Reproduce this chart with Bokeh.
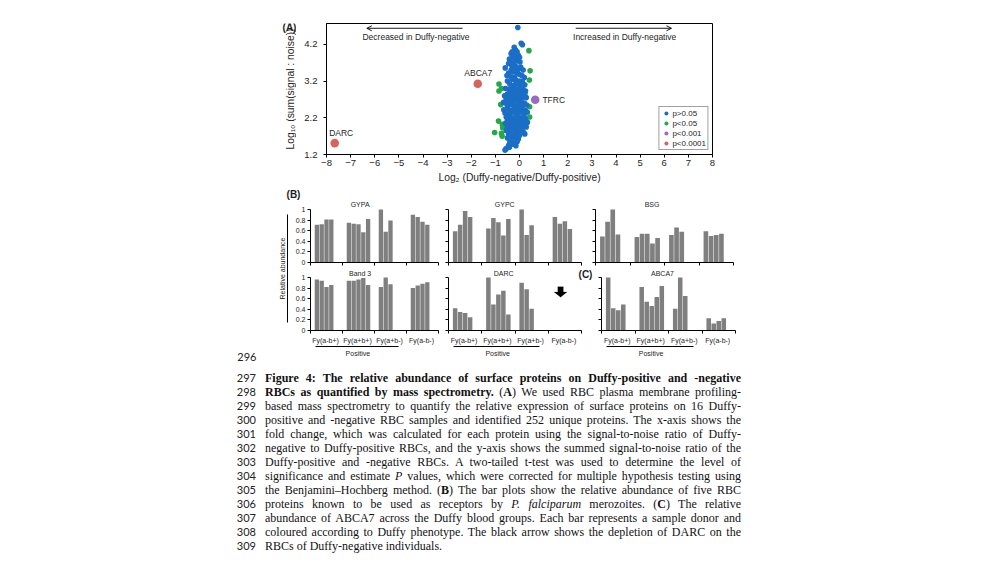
import math
from bokeh.plotting import figure
from bokeh.models import (Range1d, FixedTicker, LinearAxis, Label, Arrow, OpenHead,
                          Legend, LegendItem, Div, PolyAnnotation, Spacer)
from bokeh.layouts import column, row
from bokeh.embed import file_html
from bokeh.resources import INLINE
from bokeh.core.properties import value

SANS = "Liberation Sans"
SERIF = "Liberation Serif"
INK = "#1e1e1e"

# ---------------- Panel A data ----------------
ns_xy = [
    (-0.07, 4.66), (0.07, 4.23), (0.12, 4.19), (-0.22, 4.12), (-0.17, 4.05), (-0.30, 4.00), (-0.10, 4.00),
    (-0.35, 3.95), (-0.25, 3.92), (-0.15, 3.96), (-0.05, 3.90), (0.00, 3.85), (-0.30, 3.86), (-0.20, 3.82), (-0.42, 3.80),
    (-0.40, 3.76), (-0.10, 3.75), (0.02, 3.72), (-0.25, 3.70), (-0.45, 3.68), (-0.32, 3.64),
    (-0.59, 3.56), (-0.30, 3.60), (-0.15, 3.60), (0.05, 3.58), (-0.05, 3.52), (-0.35, 3.50), (0.15, 3.50), (-0.22, 3.55),
    (-0.45, 3.42), (-0.25, 3.45), (-0.10, 3.42), (0.00, 3.38), (0.10, 3.35), (-0.35, 3.32), (-0.20, 3.30), (0.20, 3.30), (-0.52, 3.35),
    (-0.50, 3.20), (-0.30, 3.25), (-0.15, 3.22), (0.00, 3.20), (0.12, 3.18), (-0.40, 3.12), (-0.20, 3.10), (-0.05, 3.12), (0.22, 3.10), (0.10, 3.05),
    (-0.58, 3.00), (-0.45, 2.98), (-0.30, 3.02), (-0.15, 2.98), (0.00, 3.00), (0.15, 2.97), (-0.35, 2.92), (-0.20, 2.90), (-0.05, 2.92), (0.08, 2.90), (0.25, 2.93),
    (-0.62, 2.80), (-0.50, 2.85), (-0.40, 2.78), (-0.25, 2.82), (-0.10, 2.85), (0.05, 2.80), (0.18, 2.82), (-0.30, 2.72), (-0.15, 2.75), (0.00, 2.72), (0.12, 2.74), (-0.55, 2.72), (0.28, 2.75),
    (-0.66, 2.62), (-0.55, 2.60), (-0.40, 2.65), (-0.25, 2.62), (-0.10, 2.66), (0.05, 2.62), (0.20, 2.60), (-0.50, 2.52), (-0.32, 2.55), (-0.18, 2.52), (-0.02, 2.55), (0.12, 2.52), (0.30, 2.55),
    (-0.65, 2.42), (-0.50, 2.45), (-0.35, 2.40), (-0.20, 2.45), (-0.05, 2.42), (0.10, 2.45), (0.25, 2.40), (-0.60, 2.33), (-0.42, 2.32), (-0.28, 2.35), (-0.12, 2.32), (0.02, 2.35), (0.18, 2.32), (0.32, 2.35),
    (-0.55, 2.22), (-0.40, 2.25), (-0.25, 2.20), (-0.10, 2.25), (0.05, 2.20), (0.20, 2.22), (-0.50, 2.12), (-0.35, 2.15), (-0.20, 2.12), (-0.05, 2.15), (0.10, 2.12), (0.25, 2.15), (0.33, 2.08),
    (-0.58, 2.05), (-0.45, 2.02), (-0.30, 2.05), (-0.15, 2.00), (0.00, 2.05), (0.15, 2.02), (-0.50, 1.93), (-0.35, 1.95), (-0.20, 1.92), (-0.05, 1.95), (0.12, 1.92), (0.28, 1.95),
    (-0.55, 1.85), (-0.40, 1.82), (-0.25, 1.86), (-0.10, 1.82), (0.05, 1.85), (0.18, 1.80), (-0.45, 1.74), (-0.30, 1.72), (-0.15, 1.75), (0.00, 1.72), (0.22, 1.76),
    (-0.50, 1.65), (-0.35, 1.62), (-0.20, 1.66), (-0.05, 1.62), (-0.40, 1.55), (-0.25, 1.52), (-0.10, 1.55),
    (-0.45, 1.45), (-0.30, 1.48), (-0.55, 1.36), (-0.60, 1.32), (-0.42, 1.40), (-0.15, 1.44),
]
ns_x = [p[0] for p in ns_xy]
ns_y = [p[1] for p in ns_xy]

p05_x = [0.39, 0.44, 0.41, -0.85, -0.85, 0.23, -0.78, 0.42, 0.42, -0.87, -0.71, -0.70, -1.03, -0.75, -0.72, -0.75]
p05_y = [4.03, 3.48, 3.23, 3.12, 2.93, 2.86, 2.56, 2.50, 2.22, 2.11, 2.02, 1.93, 1.80, 1.78, 1.70, 3.00]

p001_x = [0.65]
p001_y = [2.69]
p0001_x = [-7.66, -1.73]
p0001_y = [1.51, 3.13]

named = ["DARC", "ABCA7", "TFRC"]
legend_labels = ["p>0.05", "p<0.05", "p<0.001", "p<0.0001"]
a_xticks = list(range(-8, 9))
a_yticks = [1.2, 2.2, 3.2, 4.2]

C_NS = "#1b6ec6"
C_05 = "#23a84a"
C_001 = "#9a6cbf"
C_0001 = "#d8625c"

# ---------------- Panel B / C data ----------------
phenotypes = ["Fy(a-b+)", "Fy(a+b+)", "Fy(a+b-)", "Fy(a-b-)"]
donors_per_group = [4, 5, 3, 4]
gypa = [0.71, 0.72, 0.81, 0.81, 0.75, 0.73, 0.72, 0.57, 0.82, 1.00, 0.58, 0.79, 0.90, 0.86, 0.77, 0.71]
gypc = [0.59, 0.71, 0.97, 0.86, 0.64, 0.84, 0.76, 0.51, 0.82, 1.00, 0.52, 0.70, 0.86, 0.73, 0.78, 0.63]
bsg = [0.49, 0.77, 1.00, 0.53, 0.48, 0.54, 0.54, 0.36, 0.46, 0.52, 0.66, 0.58, 0.59, 0.50, 0.52, 0.54]
band3 = [0.96, 0.94, 0.82, 0.86, 0.94, 0.94, 0.96, 0.99, 0.86, 0.82, 1.00, 0.87, 0.80, 0.85, 0.88, 0.91]
darc = [0.42, 0.35, 0.33, 0.25, 1.00, 0.49, 0.68, 0.75, 0.30, 0.90, 0.78, 0.41, 0.0, 0.0, 0.0, 0.0]
abca7 = [1.00, 0.42, 0.38, 0.49, 0.82, 0.54, 0.46, 0.63, 0.84, 0.41, 1.00, 0.65, 0.23, 0.13, 0.18, 0.23]
b_yticks = [0, 0.2, 0.4, 0.6, 0.8, 1.0]
b_ylabels = ["0", "0.2", "0.4", "0.6", "0.8", "1"]
BAR = "#7f7f7f"


def plain(fig):
    fig.xgrid.visible = False
    fig.ygrid.visible = False


def blank(width, height, xr, yr, **kw):
    f = figure(width=width, height=height, x_range=Range1d(*xr), y_range=Range1d(*yr),
               toolbar_location=None, output_backend="svg", title=None,
               x_axis_location=None, y_axis_location=None, **kw)
    plain(f)
    f.outline_line_color = None
    return f


# ---------------- Panel A ----------------
A_TOP, A_BOTTOM = 15, 34
pa = figure(width=696, height=180, x_range=Range1d(-8, 8), y_range=Range1d(1.2, 4.77),
            toolbar_location=None, output_backend="svg", title=None,
            min_border_left=30, min_border_right=280, min_border_top=A_TOP, min_border_bottom=A_BOTTOM)
plain(pa)
pa.outline_line_color = "black"
pa.outline_line_width = 1

r05 = pa.scatter(p05_x, p05_y, size=5.6, fill_color=C_05, line_color=None)
rns = pa.scatter(ns_x, ns_y, size=5.6, fill_color=C_NS, line_color=None)
r001 = pa.scatter(p001_x, p001_y, size=8.6, fill_color=C_001, line_color=None)
r0001 = pa.scatter(p0001_x, p0001_y, size=8.6, fill_color=C_0001, line_color=None)

for ax in (pa.xaxis[0], pa.yaxis[0]):
    ax.axis_line_color = "black"
    ax.major_tick_line_color = "black"
    ax.major_tick_in = 0
    ax.major_tick_out = 3
    ax.minor_tick_line_color = None
    ax.major_label_text_font = SANS
    ax.major_label_text_font_size = "9.5px"
    ax.major_label_text_color = INK
    ax.axis_label_text_font = SANS
    ax.axis_label_text_font_size = "10.3px"
    ax.axis_label_text_font_style = "normal"
    ax.axis_label_text_color = INK
pa.xaxis.ticker = FixedTicker(ticks=a_xticks)
pa.yaxis.ticker = FixedTicker(ticks=a_yticks)
pa.xaxis.major_label_standoff = 2
pa.xaxis.axis_label_standoff = 3
pa.yaxis.major_label_standoff = 6
pa.xaxis.axis_label = "Log\u2082 (Duffy-negative/Duffy-positive)"

legend = Legend(items=[LegendItem(label=legend_labels[0], renderers=[rns]),
                       LegendItem(label=legend_labels[1], renderers=[r05]),
                       LegendItem(label=legend_labels[2], renderers=[r001]),
                       LegendItem(label=legend_labels[3], renderers=[r0001])],
                location="bottom_right", margin=4, padding=1, spacing=0,
                glyph_width=11, glyph_height=10, label_height=10, label_standoff=1,
                label_text_font=SANS, label_text_font_size="8px", label_text_color=INK,
                border_line_color="#444444", border_line_width=1, background_fill_alpha=1)
pa.add_layout(legend)


def alabel(fig, x, y, text, size="8.5px", align="center", style="normal"):
    fig.add_layout(Label(x=x, y=y, text=text, text_font=SANS, text_font_size=size,
                         text_align=align, text_baseline="middle", text_color=INK,
                         text_font_style=style))


alabel(pa, -7.39, 1.78, named[0])
alabel(pa, -1.71, 3.41, named[1])
alabel(pa, 0.95, 2.68, named[2], align="left")
alabel(pa, -4.29, 4.40, "Decreased in Duffy-negative")
alabel(pa, 4.36, 4.40, "Increased in Duffy-negative")
pa.add_layout(Arrow(start=None, end=OpenHead(size=5, line_width=0.9, line_color="black"),
                    x_start=-2.36, y_start=4.64, x_end=-6.33, y_end=4.64,
                    line_width=0.9, line_color="black"))
pa.add_layout(Arrow(start=None, end=OpenHead(size=5, line_width=0.9, line_color="black"),
                    x_start=2.33, y_start=4.64, x_end=6.30, y_end=4.64,
                    line_width=0.9, line_color="black"))

# left strip of panel A (same vertical borders as panel A): letter and y-axis title
la = blank(288, 180, (0, 288), (1.2, 4.77), min_border_left=0, min_border_right=0,
           min_border_top=A_TOP, min_border_bottom=A_BOTTOM)
la.text(x=[281], y=[4.67], text=["(A)"], text_align="center", text_baseline="middle",
        text_font=value(SANS), text_font_size=value("10px"), text_font_style="bold", text_color=INK)
la.text(x=[282.2], y=[2.985], text=["Log\u2081\u2080 (sum(signal : noise))"], angle=math.pi / 2,
        text_align="center", text_baseline="middle", text_font=value(SANS),
        text_font_size=value("10.3px"), text_color=INK)

# thin strip with the (B) letter
sb = blank(984, 12, (0, 984), (0, 12), min_border=0)
sb.text(x=[285], y=[6], text=["(B)"], text_align="center", text_baseline="middle",
        text_font=value(SANS), text_font_size=value("10px"), text_font_style="bold", text_color=INK)


# ---------------- Panel B / C small multiples ----------------
def bar_panel(vals, name, title_x, title_y, width, height, bl, br, bt, bb, show_ylab, show_xlab,
              xmax=4.0):
    p = figure(width=width, height=height, x_range=Range1d(0, xmax), y_range=Range1d(0, 1.15),
               toolbar_location=None, output_backend="svg", title=None,
               min_border_left=bl, min_border_right=br, min_border_top=bt, min_border_bottom=bb)
    plain(p)
    p.outline_line_color = None
    xs = []
    for g, n in enumerate(donors_per_group):
        for j in range(n):
            xs.append(g + 0.2 + 0.15 * j)
    p.vbar(x=xs, top=vals, bottom=0, width=0.135, fill_color=BAR, line_color=None)
    for ax in (p.xaxis[0], p.yaxis[0]):
        ax.axis_line_color = "black"
        ax.axis_line_width = 1
        ax.major_tick_line_color = "black"
        ax.major_tick_in = 0
        ax.major_tick_out = 3
        ax.minor_tick_line_color = None
        ax.major_label_text_font = SANS
        ax.major_label_text_color = INK
    p.xaxis.bounds = (0, 4)
    p.yaxis.bounds = (0, 1)
    p.xaxis.ticker = FixedTicker(ticks=[0, 1, 2, 3, 4])
    p.xaxis.major_label_text_font_size = "1px"
    p.xaxis.major_label_text_color = None
    p.xaxis.major_label_standoff = 0
    p.yaxis.ticker = FixedTicker(ticks=b_yticks)
    if show_ylab:
        p.yaxis.major_label_overrides = {t: s for t, s in zip(b_yticks, b_ylabels)}
        p.yaxis.major_label_text_font_size = "7px"
        p.yaxis.major_label_standoff = 2
    else:
        p.yaxis.major_label_text_font_size = "1px"
        p.yaxis.major_label_text_color = None
        p.yaxis.major_label_standoff = 0
    if show_xlab:
        centers = [g + 0.47 for g in range(4)]
        lab_ax = LinearAxis(ticker=FixedTicker(ticks=centers),
                            major_label_overrides={c: s for c, s in zip(centers, phenotypes)},
                            axis_line_color=None, major_tick_line_color=None,
                            major_tick_in=0, major_tick_out=0,
                            minor_tick_line_color=None, minor_tick_in=0, minor_tick_out=0,
                            major_label_standoff=3,
                            major_label_text_font=SANS, major_label_text_font_size="7px",
                            major_label_text_color=INK)
        p.add_layout(lab_ax, "below")
        pos_ax = LinearAxis(ticker=FixedTicker(ticks=[1.48]),
                            major_label_overrides={1.48: "Positive"},
                            bounds=(0.15, 2.75), axis_line_color="black", axis_line_width=1,
                            major_tick_line_color=None, major_tick_in=0, major_tick_out=0,
                            minor_tick_line_color=None, minor_tick_in=0, minor_tick_out=0,
                            major_label_standoff=3, major_label_text_font=SANS,
                            major_label_text_font_size="7px", major_label_text_color=INK)
        p.add_layout(pos_ax, "below")
    p.add_layout(Label(x=title_x, y=title_y, text=name, text_font=SANS, text_font_size="7px",
                       text_align="center", text_baseline="middle", text_color=INK))
    return p


f_gypa = bar_panel(gypa, "GYPA", 1.55, 1.094, 154, 68, 22, 4, 1, 6, True, False)
f_gypc = bar_panel(gypc, "GYPC", 1.69, 1.094, 146, 68, 6, 0, 1, 6, False, False, xmax=140 / 33.25)
f_bsg = bar_panel(bsg, "BSG", 1.64, 1.094, 152, 68, 7, 7, 1, 6, False, False)
f_band3 = bar_panel(band3, "Band 3", 1.55, 1.08, 154, 94, 22, 4, 1, 32, True, True)
f_darc = bar_panel(darc, "DARC", 1.66, 1.08, 152, 94, 6, 0, 1, 32, False, True, xmax=146 / 33.25)
f_abca7 = bar_panel(abca7, "ABCA7", 1.82, 1.08, 148, 94, 7, 7, 1, 32, False, True)

# black arrow: depletion of DARC in Fy(a-b-)
ax0, tip = 3.37, 0.628
sx, sy = 1 / 33.25, 1 / 53.0
f_darc.add_layout(PolyAnnotation(
    xs=[ax0 - 2.8 * sx, ax0 + 2.8 * sx, ax0 + 2.8 * sx, ax0 + 6.5 * sx, ax0, ax0 - 6.5 * sx, ax0 - 2.8 * sx],
    ys=[tip + 10.5 * sy, tip + 10.5 * sy, tip + 5.2 * sy, tip + 5.2 * sy, tip, tip + 5.2 * sy, tip + 5.2 * sy],
    fill_color="black", fill_alpha=1, line_color="black", line_width=0.5))
f_darc.add_layout(Label(x=4.12, y=1.057, text="(C)", text_font=SANS, text_font_size="10px",
                        text_font_style="bold", text_align="center", text_baseline="middle",
                        text_color=INK))

# left decoration column of panel B: shared y-label, bracket line and line number 296
pl = blank(280, 162, (0, 280), (0, 162), min_border=0)
pl.text(x=[273.5], y=[94], text=["Relative abundance"], angle=math.pi / 2,
        text_align="center", text_baseline="middle", text_font=value(SANS),
        text_font_size=value("7px"), text_color=INK)
pl.segment(x0=[279], y0=[148], x1=[279], y1=[40], line_color="black", line_width=1)
pl.text(x=[248], y=[6], text=["296"], text_align="right", text_baseline="middle",
        text_font=value("Lato"), text_font_size=value("11px"), text_color="#222222")

# ---------------- caption ----------------
caption_lines = [
    ("297", "<b>Figure 4: The relative abundance of surface proteins on Duffy-positive and -negative</b>"),
    ("298", "<b>RBCs as quantified by mass spectrometry.</b> (<b>A</b>) We used RBC plasma membrane profiling-"),
    ("299", "based mass spectrometry to quantify the relative expression of surface proteins on 16 Duffy-"),
    ("300", "positive and -negative RBC samples and identified 252 unique proteins. The x-axis shows the"),
    ("301", "fold change, which was calculated for each protein using the signal-to-noise ratio of Duffy-"),
    ("302", "negative to Duffy-positive RBCs, and the y-axis shows the summed signal-to-noise ratio of the"),
    ("303", "Duffy-positive and -negative RBCs. A two-tailed t-test was used to determine the level of"),
    ("304", "significance and estimate <i>P</i> values, which were corrected for multiple hypothesis testing using"),
    ("305", "the Benjamini\u2013Hochberg method. (<b>B</b>) The bar plots show the relative abundance of five RBC"),
    ("306", "proteins known to be used as receptors by <i>P. falciparum</i> merozoites. (<b>C</b>) The relative"),
    ("307", "abundance of ABCA7 across the Duffy blood groups. Each bar represents a sample donor and"),
    ("308", "coloured according to Duffy phenotype. The black arrow shows the depletion of DARC on the"),
    ("309", "RBCs of Duffy-negative individuals."),
    ("310", ""),
]
parts = []
for i, (num, txt) in enumerate(caption_lines):
    top = 8.7 + 14 * i
    parts.append(
        f'<div style="position:absolute;left:222px;top:{top}px;width:26px;height:14px;'
        f'line-height:14px;text-align:right;font-family:Lato;font-size:11px;color:#222;">{num}</div>')
    if txt:
        last = "left" if i == 12 else "justify"
        parts.append(
            f'<div style="position:absolute;left:257px;top:{top}px;width:476px;height:14px;'
            f"line-height:14px;font-family:'{SERIF}';font-size:12px;color:#111;"
            f'text-align:justify;text-align-last:{last};white-space:normal;">{txt}</div>')
html = ('<div style="position:relative;width:984px;height:193px;overflow:hidden;margin:0;padding:0;">'
        + "".join(parts) + "</div>")
cap = Div(text=html, width=984, height=193, margin=(0, 0, 0, 0))

content = column(
    row(la, pa),
    sb,
    row(pl, column(row(f_gypa, f_gypc, f_bsg), row(f_band3, f_darc, f_abca7))),
    cap,
)
layout = column(Spacer(width=992, height=8), row(Spacer(width=8, height=547), content))

open("out.html", "w").write(file_html(layout, INLINE))
